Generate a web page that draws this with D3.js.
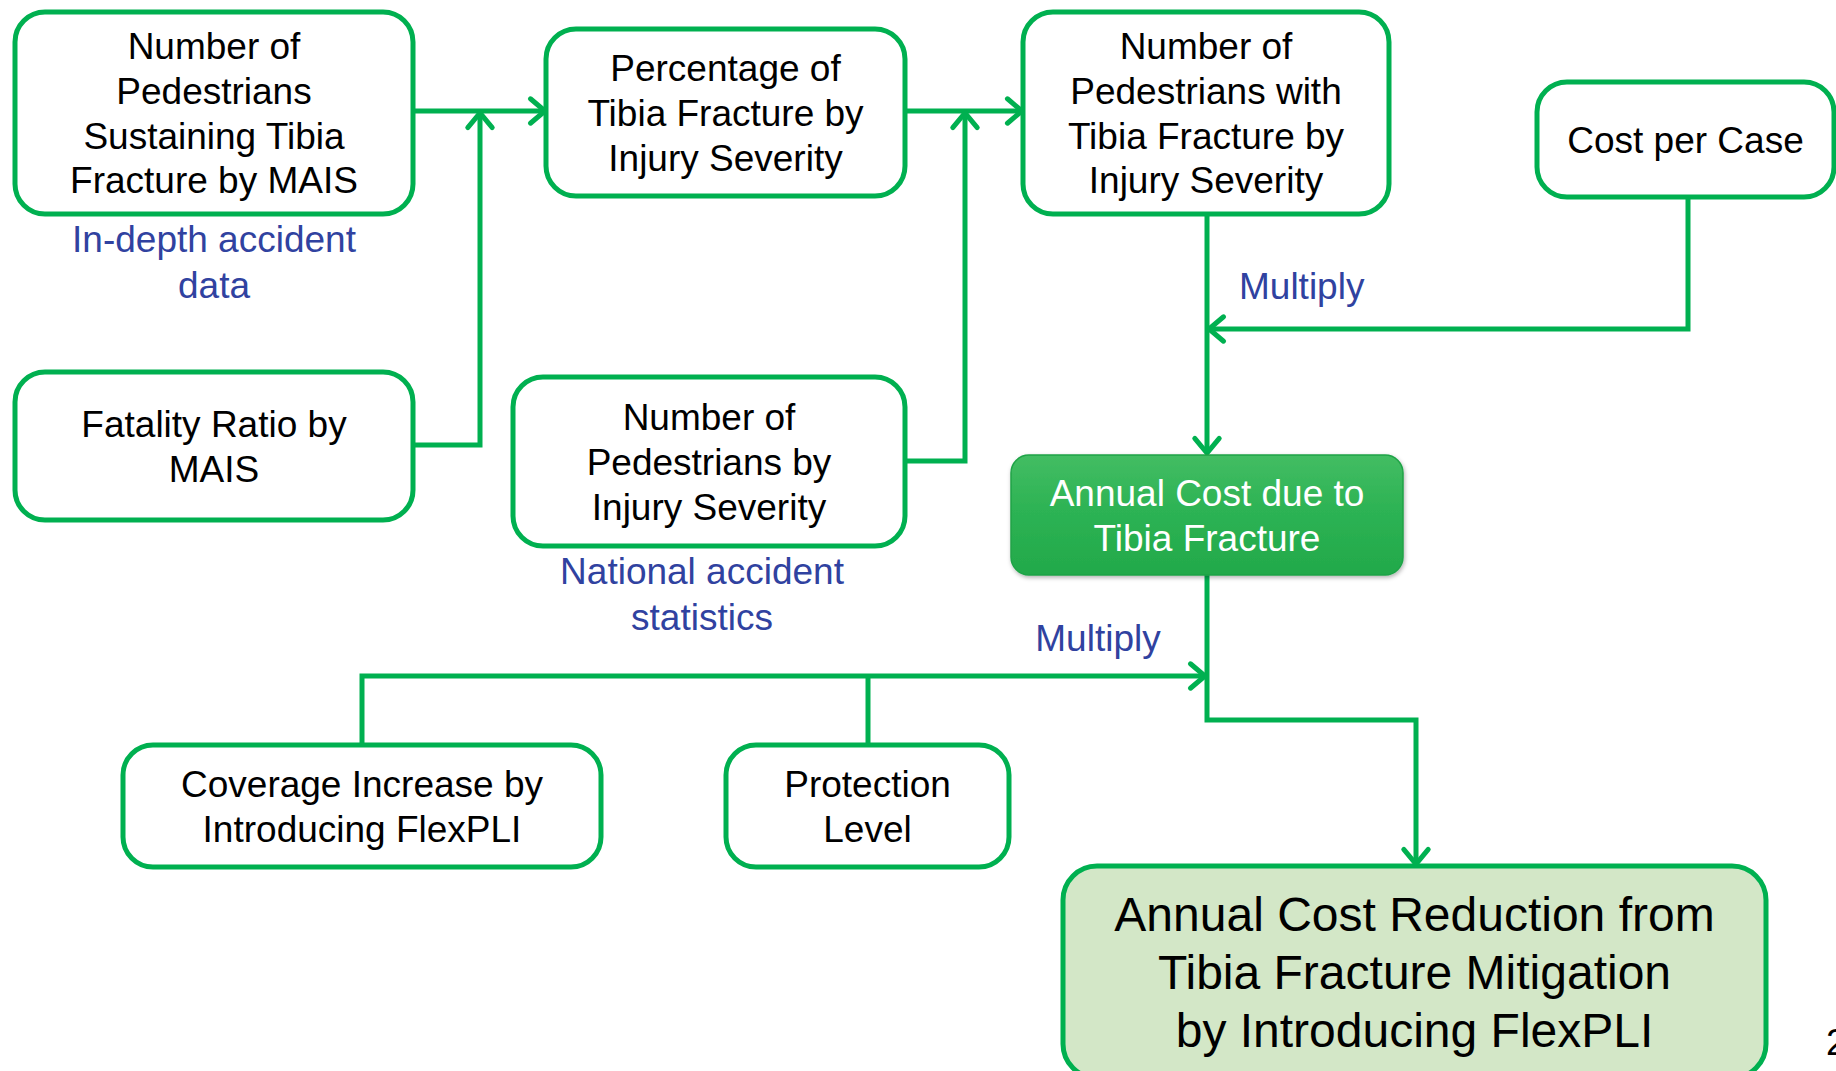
<!DOCTYPE html>
<html><head><meta charset="utf-8">
<script src="https://cdn.jsdelivr.net/npm/d3@7"></script>
<style>html,body{margin:0;padding:0;background:#fff;overflow:hidden}</style>
</head><body>
<svg id="c" width="1836" height="1071"></svg>
<script>
// ---- content ----
const nodeIds = ["src","pct","num","cost","fat","nat","annual","cov","prot","result"];
const nodeLabels = [
  ["Number of","Pedestrians","Sustaining Tibia","Fracture by MAIS"],
  ["Percentage of","Tibia Fracture by","Injury Severity"],
  ["Number of","Pedestrians with","Tibia Fracture by","Injury Severity"],
  ["Cost per Case"],
  ["Fatality Ratio by","MAIS"],
  ["Number of","Pedestrians by","Injury Severity"],
  ["Annual Cost due to","Tibia Fracture"],
  ["Coverage Increase by","Introducing FlexPLI"],
  ["Protection","Level"],
  ["Annual Cost Reduction from","Tibia Fracture Mitigation","by Introducing FlexPLI"]
];
const nodeKinds = ["plain","plain","plain","plain","plain","plain","filled","plain","plain","result"];
const noteLabels = [["In-depth accident","data"],["National accident","statistics"],["Multiply"],["Multiply"]];
const pageNumber = "2";

// ---- layout (pixel geometry) ----
const boxGeom = {
  src:   [15,12,398,202],
  pct:   [546,29,359,167],
  num:   [1023,12,366,202],
  cost:  [1537,82,297,115],
  fat:   [15,372,398,148],
  nat:   [513,377,392,169],
  annual:[1011,455,392,120],
  cov:   [123,745,478,122],
  prot:  [726,745,283,122],
  result:[1063,866,703,212]
};
const notePos = [[214,239,"middle"],[702,571,"middle"],[1239,286,"start"],[1098,638,"middle"]];
// connector polylines [points], arrow at end
const links = [
  {pts:[[413,111],[545,111]]},
  {pts:[[413,445],[480,445],[480,113]]},
  {pts:[[905,111],[1022,111]]},
  {pts:[[905,461],[965,461],[965,113]]},
  {pts:[[1207,214],[1207,453]]},
  {pts:[[1688,197],[1688,329],[1209,329]]},
  {pts:[[1207,575],[1207,720],[1416,720],[1416,864]]},
  {pts:[[362,745],[362,676],[1205,676]]},
  {pts:[[868,745],[868,676]], noArrow:true}
];

const GREEN = "#00B050", BLUE = "#3042A0";
const svg = d3.select("#c");
const defs = svg.append("defs");
const g1 = defs.append("linearGradient").attr("id","gf").attr("x1",0).attr("y1",0).attr("x2",0).attr("y2",1);
g1.append("stop").attr("offset","0%").attr("stop-color","#43BD63");
g1.append("stop").attr("offset","45%").attr("stop-color","#2DB354");
g1.append("stop").attr("offset","100%").attr("stop-color","#22A94A");
const f = defs.append("filter").attr("id","sh").attr("x","-5%").attr("y","-5%").attr("width","115%").attr("height","120%");
f.append("feDropShadow").attr("dx",1).attr("dy",2).attr("stdDeviation",2).attr("flood-color","#000").attr("flood-opacity",0.3);

const line = d3.line();
const lg = svg.append("g");
links.forEach(l => {
  lg.append("path").attr("d", line(l.pts)).attr("fill","none")
    .attr("stroke",GREEN).attr("stroke-width",5).attr("stroke-linejoin","miter");
  if (!l.noArrow) {
    const n = l.pts.length, p = l.pts[n-1], q = l.pts[n-2];
    const ang = Math.atan2(p[1]-q[1], p[0]-q[0]);
    const L = 19, a = 40*Math.PI/180;
    const a1 = [p[0]-L*Math.cos(ang-a), p[1]-L*Math.sin(ang-a)];
    const a2 = [p[0]-L*Math.cos(ang+a), p[1]-L*Math.sin(ang+a)];
    lg.append("path").attr("d", line([a1,p,a2])).attr("fill","none")
      .attr("stroke",GREEN).attr("stroke-width",5).attr("stroke-linecap","round").attr("stroke-linejoin","miter");
  }
});

const ng = svg.append("g").attr("font-family","'Liberation Sans', Arial, sans-serif");
nodeIds.forEach((id,i) => {
  const [x,y,w,h] = boxGeom[id];
  const kind = nodeKinds[i];
  const r = kind==="result" ? 34 : 30;
  const rect = ng.append("rect").attr("x",x).attr("y",y).attr("width",w).attr("height",h).attr("rx",r).attr("ry",r);
  if (kind==="filled") {
    rect.attr("fill","url(#gf)").attr("stroke","#1FA347").attr("stroke-width",1.5).attr("filter","url(#sh)").attr("rx",18).attr("ry",18);
  } else if (kind==="result") {
    rect.attr("fill","#D3E7C7").attr("stroke",GREEN).attr("stroke-width",5);
  } else {
    rect.attr("fill","#fff").attr("stroke",GREEN).attr("stroke-width",5);
  }
  const lines = nodeLabels[i];
  const fs = kind==="result" ? 48 : 37;
  const lh = kind==="result" ? 58 : 44.7;
  const cx = x + w/2, cy = y + h/2;
  const y0 = cy - (lines.length-1)*lh/2;
  lines.forEach((t,k) => {
    ng.append("text").attr("x",cx).attr("y",y0+k*lh).attr("dy","0.36em")
      .attr("text-anchor","middle").attr("font-size",fs)
      .attr("fill", kind==="filled" ? "#fff" : "#000").text(t);
  });
});

const tg = svg.append("g").attr("font-family","'Liberation Sans', Arial, sans-serif");
noteLabels.forEach((ls,i) => {
  const [x,y,anc] = notePos[i];
  ls.forEach((t,k) => {
    tg.append("text").attr("x",x).attr("y",y+k*45.6).attr("dy","0.36em")
      .attr("text-anchor",anc).attr("font-size",37).attr("fill",BLUE).text(t);
  });
});
tg.append("text").attr("x",1826).attr("y",1042).attr("dy","0.36em").attr("font-size",37).attr("fill","#000").text(pageNumber);
</script>
</body></html>
